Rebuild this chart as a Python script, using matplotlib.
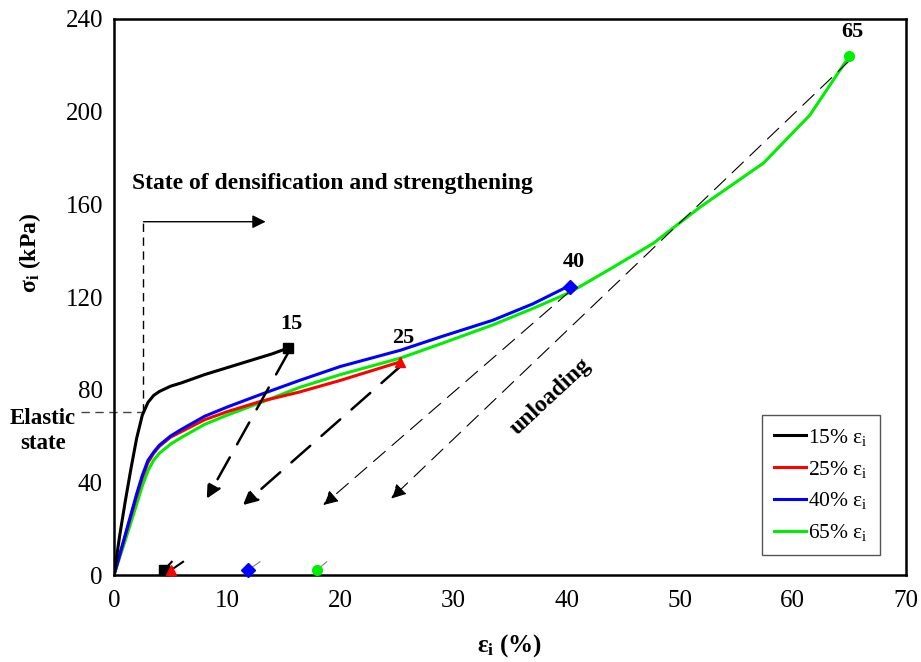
import matplotlib
matplotlib.use('Agg')
import numpy as np
import matplotlib.pyplot as plt

plt.rcParams['font.family'] = ['Liberation Serif', 'DejaVu Serif']
plt.rcParams['mathtext.fontset'] = 'stix'

# loading curves (strain %, stress kPa)
eps_15 = [0, 0.5, 1, 1.5, 2, 2.5, 3, 3.5, 4, 5, 6, 8, 10, 12, 14, 15.4]
sig_15 = [0, 17, 32, 46, 59, 69, 74.5, 77.5, 79.2, 81.5, 83, 86.5, 89.5, 92.5, 95.5, 98]

eps_25 = [0, 1, 2, 2.5, 3, 3.5, 4, 5, 6, 8, 10, 13, 16.4, 20, 25.3]
sig_25 = [0, 17, 34, 42, 48.5, 52.5, 55.5, 59.5, 62, 67, 70.5, 75, 79, 84, 92]

eps_40 = [0, 1, 2, 2.5, 3, 3.5, 4, 5, 6, 8, 10, 13, 16.4, 20, 25.3, 29, 33.5, 37, 40.3]
sig_40 = [0, 17.5, 35, 43, 49.5, 53, 56, 60, 63, 68.5, 72.5, 78, 84, 90, 97, 103, 110, 117, 125]

eps_65 = [0, 1, 2, 2.5, 3, 3.5, 4, 5, 6, 8, 10, 13, 16.4, 20, 25.3, 29, 33.5, 37, 40.3,
          44, 47.7, 51.8, 57.4, 61.5, 65]
sig_65 = [0, 15, 30.5, 38.5, 45, 49.5, 52.5, 56.5, 59.5, 65, 69, 74.5, 81, 86.5, 93.6, 100, 108, 115, 122,
          132.5, 143.3, 158.8, 177.8, 198.5, 224]

labels = ['15% $\\mathregular{\\epsilon_i}$', '25% $\\mathregular{\\epsilon_i}$',
          '40% $\\mathregular{\\epsilon_i}$', '65% $\\mathregular{\\epsilon_i}$']
colors = ['black', '#ff0000', '#0000ff', '#00ee00']
markers = ['s', '^', 'D', 'o']
peak_names = ['15', '25', '40', '65']

# peaks, arrow tips of unloading, residual points
peak_x = [15.4, 25.3, 40.3, 65]
peak_y = [98, 92, 124.5, 224]
tip_x = [8.2, 11.4, 18.5, 24.5]
tip_y = [33, 30.2, 30.2, 33]
res_x = [4.4, 5.0, 11.8, 17.9]
res_y = [2, 2, 2, 2]
res_end_x = [5.1, 6.1, 12.9, 18.8]
res_end_y = [5.7, 5.7, 5.7, 5.7]

fig = plt.figure(figsize=(9.21, 6.62), dpi=100)
ax = fig.add_axes([0.1238, 0.1314, 0.8599, 0.8399])

curves = [(eps_15, sig_15), (eps_25, sig_25), (eps_40, sig_40), (eps_65, sig_65)]
for i in [3, 1, 2, 0]:
    e, s = curves[i]
    ax.plot(e, s, color=colors[i], lw=2.2, label=labels[i], zorder=3)

for i in range(4):
    ax.plot(peak_x[i], peak_y[i], marker=markers[i], color=colors[i], ms=7, zorder=4)
    ax.plot(res_x[i], res_y[i], marker=markers[i], color=colors[i], ms=7, zorder=4,
            clip_on=False)
    ax.text(peak_x[i] + 0.3, peak_y[i] + 10.5, peak_names[i], ha='center', va='center',
            fontsize=16, fontweight='bold')

# unloading arrows
for i in range(4):
    heavy = i < 2
    ax.annotate('', xy=(tip_x[i], tip_y[i]), xytext=(peak_x[i], peak_y[i] - 2),
                arrowprops=dict(arrowstyle='-|>', color='black',
                                lw=1.8 if heavy else 0.8,
                                linestyle=(0, (10, 6)) if heavy else (0, (14, 8)),
                                mutation_scale=22, shrinkA=0, shrinkB=0))
    ax.plot([res_x[i], res_end_x[i]], [res_y[i], res_end_y[i]], color='black' if heavy else 'gray',
            lw=1.5 if heavy else 0.8, zorder=2)

# elastic / densification markers
ax.plot([-2.9, 2.6], [70.5, 70.5], color='#444444', lw=1, ls=(0, (6, 4)), clip_on=False)
ax.plot([2.6, 2.6], [70.5, 152.5], color='black', lw=1, ls=(0, (6, 4)))
ax.annotate('', xy=(13.4, 152.5), xytext=(2.6, 152.5),
            arrowprops=dict(arrowstyle='-|>', color='black', lw=1, mutation_scale=20,
                            shrinkA=0, shrinkB=0))
ax.text(1.6, 169, 'State of densification and strengthening', fontsize=17,
        fontweight='bold', va='center', ha='left')
ax.text(-6.3, 62, 'Elastic\nstate', fontsize=16.5, fontweight='bold', ha='center',
        va='center', linespacing=1.25)
ax.text(38.6, 77, 'unloading', fontsize=17, fontweight='bold', rotation=43,
        ha='center', va='center')

ax.set_xlim(0, 70)
ax.set_ylim(0, 240)
ax.set_xticks(range(0, 71, 10))
ax.set_yticks(range(0, 241, 40))
ax.tick_params(length=0, labelsize=18)
ax.tick_params(axis='x', pad=11)
ax.tick_params(axis='y', pad=8)
for sp in ax.spines.values():
    sp.set_linewidth(1.8)

ax.set_xlabel('$\\mathregular{\\epsilon_i}$ (%)', fontsize=18, fontweight='bold', labelpad=14)
ax.set_ylabel('$\\mathregular{\\sigma_i}$ (kPa)', fontsize=17, fontweight='bold')
ax.yaxis.set_label_coords(-0.09, 0.58)

handles, labs = ax.get_legend_handles_labels()
order = [labs.index(l) for l in labels]
leg = ax.legend([handles[k] for k in order], [labs[k] for k in order],
                loc='lower right', bbox_to_anchor=(0.967, 0.036), fontsize=15.5,
                fancybox=False, edgecolor='#555555', framealpha=1,
                handlelength=1.5, handletextpad=0.1, labelspacing=0.5,
                borderpad=0.55, borderaxespad=0)
leg.get_frame().set_linewidth(1)

fig.savefig('out.png', dpi=100)
